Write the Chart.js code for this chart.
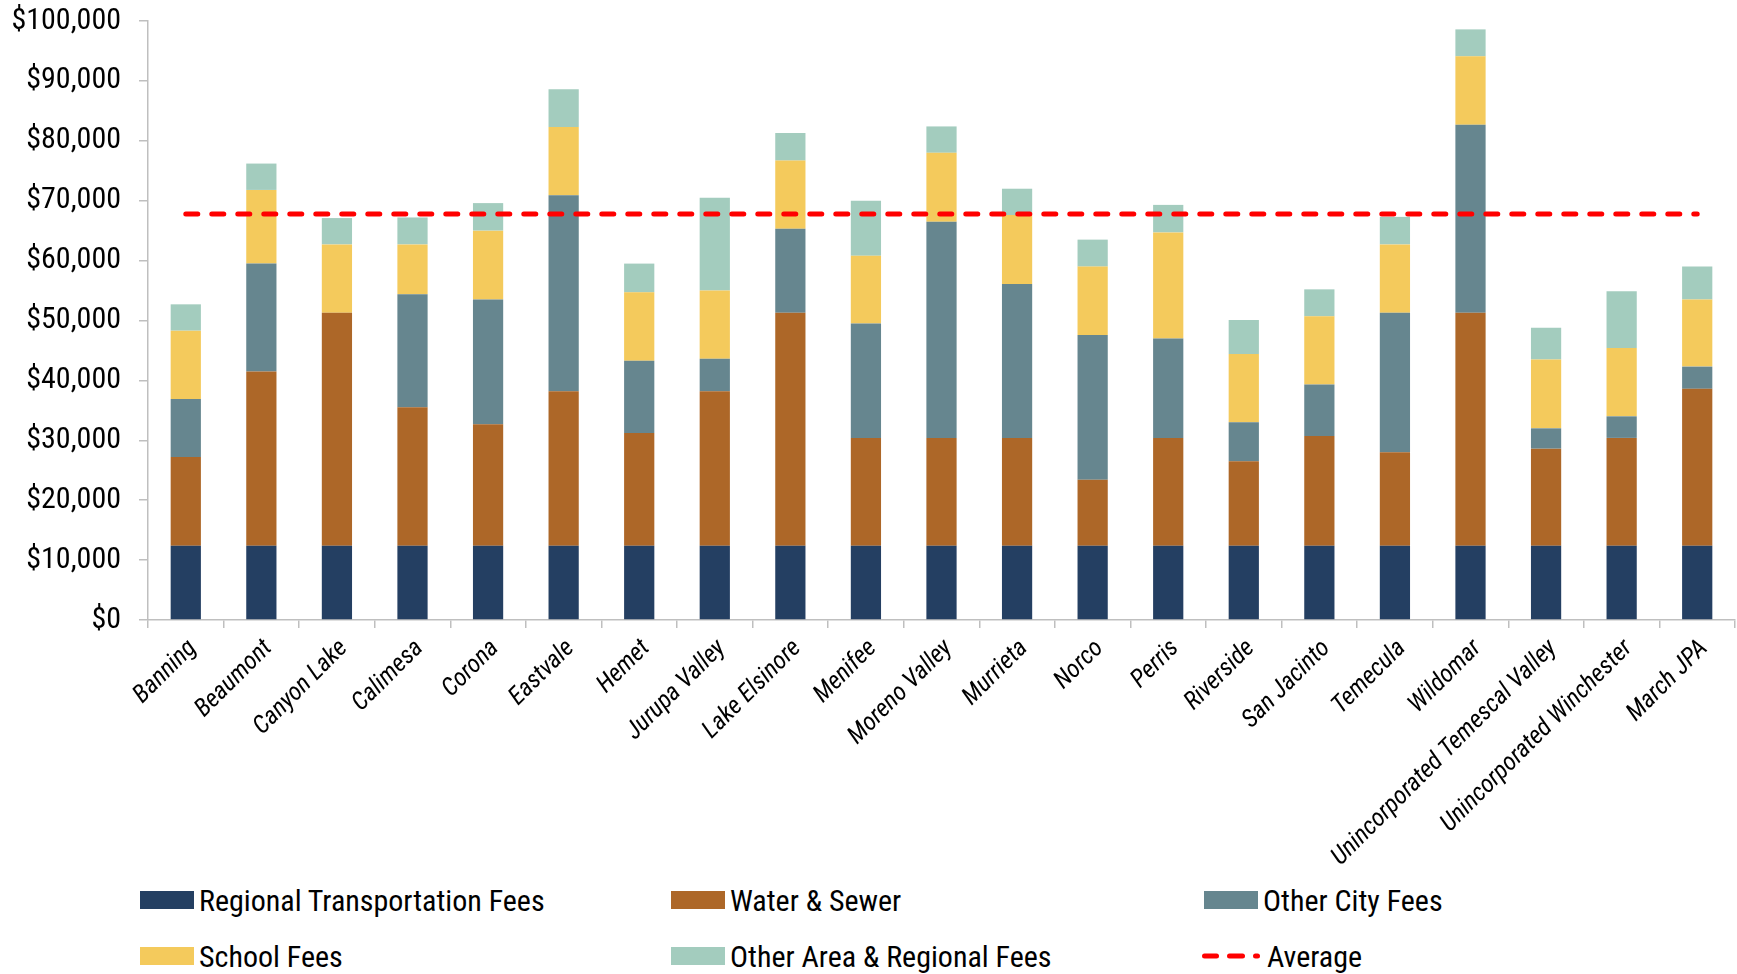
<!DOCTYPE html>
<html>
<head>
<meta charset="utf-8">
<script src="https://cdn.jsdelivr.net/npm/chart.js@4.4.1/dist/chart.umd.min.js"></script>
<style>
  html, body { margin: 0; padding: 0; background: #ffffff; }
  #wrap { position: relative; width: 1737px; height: 974px; overflow: hidden; }
  #c { position: absolute; left: 0; top: 0; }
  .lg { position: absolute; display: flex; align-items: center; color: #000; white-space: nowrap; height: 40px; }
  .lg .box { width: 54px; height: 18px; margin-right: 5px; flex: none; }
  .lg svg { margin-right: 5px; flex: none; }
  .lg .txt { display: inline-block; transform-origin: left center; }
</style>
</head>
<body>
<div id="wrap">
  <canvas id="c" width="1737" height="880"></canvas>
  <div id="legend"></div>
</div>
<script>
// ---- Data ----
const categories = ["Banning","Beaumont","Canyon Lake","Calimesa","Corona","Eastvale","Hemet","Jurupa Valley","Lake Elsinore","Menifee","Moreno Valley","Murrieta","Norco","Perris","Riverside","San Jacinto","Temecula","Wildomar","Unincorporated Temescal Valley","Unincorporated Winchester","March JPA"];

const regionalTransportationFees = [12400,12400,12400,12400,12400,12400,12400,12400,12400,12400,12400,12400,12400,12400,12400,12400,12400,12400,12400,12400,12400];
const waterAndSewer = [14800,29100,38900,23100,20300,25800,18800,25800,38900,18000,18000,18000,11000,18000,14100,18300,15600,38900,16200,18000,26200];
const otherCityFees = [9700,18000,0,18900,20800,32700,12100,5400,14000,19100,36100,25700,24200,16600,6500,8600,23300,31400,3400,3600,3700];
const schoolFees = [11400,12300,11400,8300,11500,11400,11400,11400,11400,11300,11500,11500,11400,17700,11400,11400,11400,11400,11500,11400,11200];
const otherAreaRegionalFees = [4400,4400,4400,4500,4600,6300,4800,15500,4600,9200,4400,4400,4500,4600,5700,4500,4600,4500,5300,9500,5500];
const average = [67800,67800,67800,67800,67800,67800,67800,67800,67800,67800,67800,67800,67800,67800,67800,67800,67800,67800,67800,67800,67800];

const yTicks = [0,10000,20000,30000,40000,50000,60000,70000,80000,90000,100000];

// ---- Font detection (Roboto Condensed if installed, else Roboto) ----
function fontAvailable(name) {
  const c = document.createElement('canvas').getContext('2d');
  const s = 'abcdefghijklmnopqrstuvwxyz $100,000 ABCDEFGH';
  c.font = '40px monospace'; const a = c.measureText(s).width;
  c.font = "40px '" + name + "', monospace"; const b = c.measureText(s).width;
  return Math.abs(a - b) > 0.5;
}
const hasRC = fontAvailable('Roboto Condensed');
const FONT = hasRC ? "'Roboto Condensed', Roboto, sans-serif" : "Roboto, sans-serif";
const yTickSize = hasRC ? 30 : 27;
const xTickSize = hasRC ? 25 : 22;
const legendSize = 30;
const legendScaleX = hasRC ? 1 : 0.86;

const barCommon = { stack: 'fees', barPercentage: 0.4, categoryPercentage: 1.0, borderWidth: 0, order: 1 };

const chart = new Chart(document.getElementById('c'), {
  type: 'bar',
  data: {
    labels: categories,
    datasets: [
      Object.assign({ label: 'Regional Transportation Fees', data: regionalTransportationFees, backgroundColor: '#243F62' }, barCommon),
      Object.assign({ label: 'Water & Sewer', data: waterAndSewer, backgroundColor: '#AD6728' }, barCommon),
      Object.assign({ label: 'Other City Fees', data: otherCityFees, backgroundColor: '#66868F' }, barCommon),
      Object.assign({ label: 'School Fees', data: schoolFees, backgroundColor: '#F4CA5C' }, barCommon),
      Object.assign({ label: 'Other Area & Regional Fees', data: otherAreaRegionalFees, backgroundColor: '#A3CCBE' }, barCommon),
      { type: 'line', label: 'Average', data: average, stack: 'avg', borderColor: '#FF0000', backgroundColor: '#FF0000',
        borderWidth: 5, borderDash: [12, 14], borderCapStyle: 'round', pointRadius: 0, fill: false, order: 0, tension: 0 }
    ]
  },
  options: {
    responsive: false,
    animation: false,
    devicePixelRatio: 1,
    layout: { padding: { top: 21, right: 2, left: 0, bottom: 0 } },
    plugins: { legend: { display: false }, tooltip: { enabled: false } },
    scales: {
      x: {
        stacked: true,
        grid: { drawOnChartArea: false, drawTicks: true, tickLength: 8, color: '#BFBFBF', lineWidth: 1.5 },
        border: { display: true, color: '#BFBFBF', width: 1.5 },
        ticks: { minRotation: 45, maxRotation: 45, autoSkip: false, padding: 6, labelOffset: 7, color: '#000',
                 font: { family: FONT, size: xTickSize, style: 'italic' } },
        afterFit: s => { s.height = 260; s.paddingLeft = 0; s.paddingRight = 0; }
      },
      y: {
        stacked: true,
        min: 0, max: 100000,
        afterBuildTicks: s => { s.ticks = yTicks.map(v => ({ value: v })); },
        grid: { drawOnChartArea: false, drawTicks: true, tickLength: 9, color: '#BFBFBF', lineWidth: 1.5 },
        border: { display: true, color: '#BFBFBF', width: 1.5 },
        ticks: { padding: 18, color: '#000', font: { family: FONT, size: yTickSize },
                 callback: v => '$' + Number(v).toLocaleString('en-US') },
        afterFit: s => { s.width = 148; s.paddingTop = 0; s.paddingBottom = 0; }
      }
    }
  }
});

// ---- HTML legend (3 columns x 2 rows) ----
const legendPos = [[140, 900], [671, 900], [1204, 900], [140, 956], [671, 956], [1202, 956]];
const legendEl = document.getElementById('legend');
chart.data.datasets.forEach((ds, i) => {
  const item = document.createElement('div');
  item.className = 'lg';
  item.style.left = legendPos[i][0] + 'px';
  item.style.top = (legendPos[i][1] - 20) + 'px';
  item.style.fontFamily = FONT;
  item.style.fontSize = legendSize + 'px';
  if (ds.type === 'line') {
    const c = ds.borderColor;
    item.innerHTML = '<svg width="60" height="18">' +
      '<line x1="2.5" y1="9" x2="14.5" y2="9" stroke="' + c + '" stroke-width="5" stroke-linecap="round"/>' +
      '<line x1="27.5" y1="9" x2="40.5" y2="9" stroke="' + c + '" stroke-width="5" stroke-linecap="round"/>' +
      '<line x1="53.5" y1="9" x2="55.5" y2="9" stroke="' + c + '" stroke-width="5" stroke-linecap="round"/></svg>';
  } else {
    item.innerHTML = '<span class="box" style="background:' + ds.backgroundColor + '"></span>';
  }
  const t = document.createElement('span');
  t.className = 'txt';
  t.style.transform = 'scaleX(' + legendScaleX + ')';
  t.textContent = ds.label;
  item.appendChild(t);
  legendEl.appendChild(item);
});
</script>
</body>
</html>
